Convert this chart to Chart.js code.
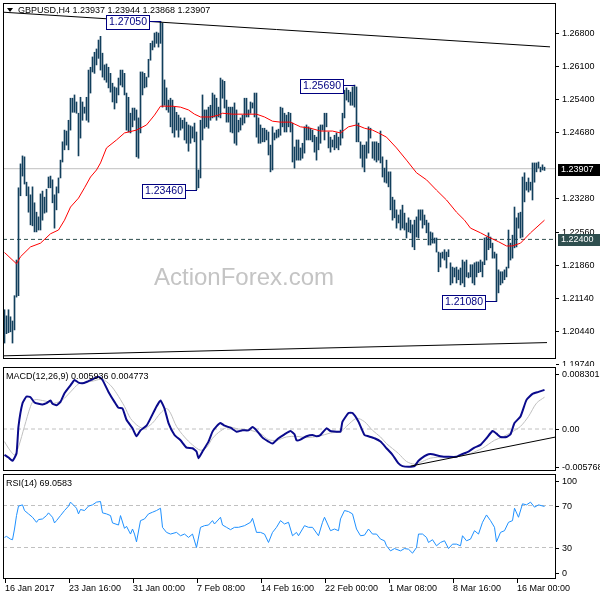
<!DOCTYPE html>
<html>
<head>
<meta charset="utf-8">
<script src="https://cdn.jsdelivr.net/npm/chart.js@4/dist/chart.umd.min.js"></script>
<style>
  body { margin: 0; background: #fff; }
  #wrap { position: relative; width: 600px; height: 600px; overflow: hidden; }
  canvas { position: absolute; left: 0; }
</style>
</head>
<body>
<div id="wrap">
  <canvas id="price" width="600" height="366" style="top:0"></canvas>
  <canvas id="macd" width="600" height="112" style="top:362px"></canvas>
  <canvas id="rsi" width="600" height="130" style="top:470px"></canvas>
</div>
<script>
// ---- data (H4 bars, index 0 = 16 Jan 2017 00:00) ----
const barHigh = [
  1.2090,1.2077,1.2090,1.2075,1.2066,1.2120,1.2196,1.2350,1.2401,1.2418,
  1.2416,1.2362,1.2352,1.2335,1.2352,1.2318,1.2298,1.2288,1.2337,1.2343,
  1.2330,1.2347,1.2373,1.2375,1.2367,1.2335,1.2352,1.2371,1.2409,1.2448,
  1.2473,1.2471,1.2494,1.2541,1.2541,1.2548,1.2533,1.2509,1.2543,1.2533,
  1.2522,1.2543,1.2601,1.2607,1.2629,1.2639,
  1.2646,1.2665,1.2673,1.2637,1.2612,1.2614,1.2607,1.2594,1.2573,1.2565,
  1.2563,1.2584,1.2601,1.2601,1.2594,1.2552,1.2543,1.2509,1.2520,1.2520,
  1.2516,1.2499,1.2597,1.2597,1.2594,1.2586,1.2624,1.2658,1.2663,1.2680,
  1.2682,1.2680,1.2705,1.2701,1.2580,1.2563,1.2537,1.2541,1.2537,1.2522,
  1.2511,1.2505,1.2499,1.2494,1.2499,1.2490,
  1.2484,1.2482,1.2480,1.2488,1.2469,1.2388,1.2494,1.2548,1.2516,1.2516,
  1.2522,1.2526,1.2552,1.2548,1.2541,1.2522,1.2584,1.2580,1.2577,1.2537,
  1.2522,1.2522,1.2522,1.2531,1.2516,1.2494,1.2499,1.2505,1.2541,1.2541,
  1.2516,1.2533,1.2531,1.2552,1.2552,1.2499,1.2484,1.2477,1.2477,1.2473,
  1.2469,1.2441,1.2480,1.2467,1.2473,1.2475,
  1.2522,1.2520,1.2509,1.2505,1.2511,1.2509,1.2488,1.2437,1.2452,1.2452,
  1.2435,1.2445,1.2480,1.2484,1.2480,1.2477,1.2473,1.2462,1.2458,1.2480,
  1.2484,1.2484,1.2509,1.2509,1.2469,1.2458,1.2452,1.2462,1.2467,1.2458,
  1.2473,1.2509,1.2558,1.2563,1.2558,1.2554,1.2565,1.2569,1.2565,1.2488,
  1.2448,1.2441,1.2441,1.2448,1.2480,1.2477,
  1.2448,1.2448,1.2448,1.2445,1.2471,1.2416,1.2392,1.2409,1.2384,1.2384,
  1.2330,1.2324,1.2303,1.2292,1.2303,1.2313,1.2296,1.2275,1.2286,1.2281,
  1.2271,1.2281,1.2288,1.2303,1.2303,1.2303,1.2292,1.2281,1.2275,1.2256,
  1.2254,1.2243,1.2243,1.2213,1.2211,1.2213,1.2218,1.2213,1.2218,1.2190,
  1.2181,1.2179,1.2181,1.2175,1.2179,1.2196,
  1.2192,1.2196,1.2169,1.2186,1.2186,1.2190,1.2192,1.2192,1.2196,1.2192,
  1.2243,1.2245,1.2254,1.2245,1.2232,1.2213,1.2209,1.2175,1.2171,1.2171,
  1.2175,1.2181,1.2260,1.2232,1.2249,1.2309,1.2286,1.2296,1.2298,1.2373,
  1.2382,1.2362,1.2371,1.2362,1.2403,1.2403,1.2403,1.2405,1.2394,1.2399,1.2394
];
const barLow = [
  1.2019,1.2039,1.2041,1.2043,1.2019,1.2047,1.2117,1.2120,1.2333,1.2375,
  1.2358,1.2333,1.2298,1.2271,1.2269,1.2256,1.2256,1.2260,1.2260,1.2281,
  1.2296,1.2298,1.2350,1.2350,1.2318,1.2264,1.2303,1.2339,1.2371,1.2405,
  1.2431,1.2441,1.2431,1.2473,1.2511,1.2511,1.2509,1.2418,1.2456,1.2494,
  1.2509,1.2494,1.2490,1.2552,1.2597,1.2594,
  1.2612,1.2626,1.2601,1.2586,1.2580,1.2575,1.2563,1.2554,1.2533,1.2518,
  1.2531,1.2548,1.2569,1.2565,1.2548,1.2473,1.2469,1.2467,1.2480,1.2494,
  1.2416,1.2413,1.2467,1.2548,1.2563,1.2565,1.2586,1.2622,1.2644,1.2650,
  1.2658,1.2650,1.2658,1.2522,1.2526,1.2516,1.2511,1.2480,1.2467,1.2458,
  1.2473,1.2458,1.2473,1.2477,1.2452,1.2445,
  1.2428,1.2445,1.2456,1.2448,1.2346,1.2350,1.2371,1.2452,1.2477,1.2480,
  1.2477,1.2494,1.2499,1.2501,1.2494,1.2501,1.2499,1.2541,1.2520,1.2490,
  1.2490,1.2469,1.2467,1.2445,1.2441,1.2469,1.2473,1.2484,1.2488,1.2501,
  1.2501,1.2509,1.2520,1.2501,1.2458,1.2445,1.2445,1.2448,1.2448,1.2452,
  1.2420,1.2384,1.2388,1.2452,1.2456,1.2458,
  1.2462,1.2480,1.2469,1.2469,1.2480,1.2469,1.2405,1.2392,1.2409,1.2409,
  1.2409,1.2413,1.2424,1.2452,1.2452,1.2452,1.2448,1.2426,1.2409,1.2431,
  1.2445,1.2473,1.2452,1.2480,1.2435,1.2426,1.2437,1.2431,1.2435,1.2431,
  1.2441,1.2456,1.2499,1.2537,1.2533,1.2526,1.2526,1.2522,1.2448,1.2448,
  1.2413,1.2394,1.2384,1.2413,1.2424,1.2456,
  1.2413,1.2409,1.2405,1.2409,1.2403,1.2373,1.2362,1.2360,1.2352,1.2303,
  1.2281,1.2286,1.2264,1.2275,1.2260,1.2264,1.2260,1.2243,1.2256,1.2254,
  1.2224,1.2218,1.2245,1.2243,1.2281,1.2264,1.2271,1.2254,1.2228,1.2228,
  1.2232,1.2232,1.2213,1.2171,1.2181,1.2200,1.2196,1.2179,1.2203,1.2143,
  1.2147,1.2160,1.2147,1.2154,1.2143,1.2147,
  1.2139,1.2160,1.2158,1.2160,1.2147,1.2143,1.2160,1.2169,1.2171,1.2160,
  1.2186,1.2196,1.2218,1.2222,1.2200,1.2200,1.2108,1.2126,1.2143,1.2147,
  1.2154,1.2160,1.2179,1.2196,1.2200,1.2222,1.2224,1.2264,1.2243,1.2245,
  1.2320,1.2345,1.2341,1.2345,1.2324,1.2362,1.2384,1.2392,1.2384,1.2388,1.2387
];

// red moving average, read at key bars
const maIdx = [0,6,8,13,18,23,27,30,33,37,40,43,46,48,51,56,60,66,71,75,78,84,88,92,95,98,103,107,109,114,
  119,126,130,134,138,143,148,153,158,164,168,172,176,180,184,187,191,196,201,206,211,216,221,226,230,233,238,242,247,251,
  254,258,263,270];
const maVal = [1.2212,1.2188,1.2203,1.2224,1.2232,1.2252,1.2260,1.2281,1.2309,1.2328,1.2350,1.2373,1.2388,1.2403,1.2435,
  1.2452,1.2467,1.2473,1.2484,1.2505,1.2524,1.2524,1.2522,1.2516,1.2507,1.2501,1.2501,1.2505,1.2509,1.2507,1.2507,1.2507,
  1.2501,1.2492,1.2490,1.2490,1.2480,1.2477,1.2471,1.2471,1.2467,1.2480,1.2484,1.2477,1.2473,1.2467,1.2458,1.2435,1.2409,
  1.2382,1.2367,1.2345,1.2324,1.2298,1.2281,1.2264,1.2254,1.2245,1.2235,1.2226,1.2226,1.2232,1.2254,1.2281];

const lastBar = [1.23937, 1.23944, 1.23868, 1.23907];
const pivotLevel = 1.2240;
const swingIdx = [78, 96, 175, 246];
const swingVal = [1.2705, 1.2346, 1.2569, 1.2108];
const upperTrend = [[-0.75, 1.27244], [272.75, 1.26505]];
const lowerTrend = [[-0.75, 1.19917], [271.25, 1.20200]];
// 1.23980 is hidden under the last-price tag in the reference
const priceTicks = [1.268, 1.261, 1.254, 1.2468, 1.2328, 1.2256, 1.2186, 1.2114, 1.2044, 1.1974];

// MACD(12,26,9)
const macdIdx = [0,2,4,6,7,9,11,13,15,17,19,21,23,24,26,28,30,33,35,37,39,41,44,47,49,52,55,57,59,61,
  64,66,68,71,73,76,78,80,82,85,88,91,94,96,97,99,102,104,106,108,110,113,116,119,122,124,126,129,132,134,
  137,140,143,145,146,148,151,154,156,158,161,163,166,168,169,172,174,177,180,182,185,188,191,194,197,199,202,205,207,210,
  212,214,218,222,226,228,232,235,238,241,244,246,248,251,253,255,258,261,264,267,270];
const macdVal = [-0.0039,-0.0043,-0.0048,-0.0037,0.0004,0.0039,0.0049,0.0048,0.0040,0.0038,
  0.0037,0.0039,0.0043,0.0038,0.0036,0.0041,0.0054,0.0066,0.0074,0.0070,
  0.0069,0.0071,0.0075,0.0079,0.0074,0.0056,0.0041,0.0032,0.0031,0.0014,
  0.0001,-0.0011,-0.0002,0.0005,0.0016,0.0034,0.0043,0.0031,0.0009,-0.0009,
  -0.0017,-0.0028,-0.0029,-0.0034,-0.0044,-0.0034,-0.0019,-0.0004,0.0004,0.0009,
  0.0005,0.0002,-0.0004,-0.0002,-0.0002,0.0003,-0.0002,-0.0013,-0.0019,-0.0022,
  -0.0014,-0.0008,-0.0003,-0.0008,-0.0017,-0.0016,-0.0011,-0.0009,-0.0011,-0.0009,
  0.0001,-0.0003,-0.0004,-0.0004,0.0011,0.0024,0.0024,0.0011,-0.0009,-0.0011,
  -0.0014,-0.0019,-0.0029,-0.0039,-0.0052,-0.0056,-0.0057,-0.0056,-0.0048,-0.0041,
  -0.0038,-0.0038,-0.0041,-0.0042,-0.0042,-0.0039,-0.0034,-0.0028,-0.0024,-0.0014,
  -0.0003,-0.0007,-0.0012,-0.0012,-0.0008,0.0009,0.0019,0.0044,0.0053,0.0056,0.0059];
const sigIdx = [0,2,5,7,10,13,15,19,22,25,29,33,37,40,45,49,53,56,60,63,67,70,74,78,81,83,86,90,94,98,
  101,104,108,112,117,123,128,132,136,141,146,151,157,163,168,171,176,180,184,188,191,197,201,205,209,213,220,228,233,239,
  245,249,254,258,262,266,270];
const sigVal = [-0.0019,-0.0029,-0.0039,-0.0027,0.0004,0.0034,0.0044,0.0043,0.0041,0.0039,
  0.0044,0.0056,0.0068,0.0070,0.0073,0.0075,0.0066,0.0054,0.0034,0.0016,
  0.0004,0.0001,0.0009,0.0024,0.0031,0.0024,0.0004,-0.0012,-0.0024,-0.0032,
  -0.0028,-0.0014,-0.0003,0.0003,0.0000,-0.0002,-0.0007,-0.0016,-0.0017,-0.0012,
  -0.0011,-0.0013,-0.0011,-0.0006,-0.0004,0.0004,0.0016,0.0011,-0.0002,-0.0012,
  -0.0022,-0.0037,-0.0049,-0.0053,-0.0049,-0.0044,-0.0042,-0.0041,-0.0037,-0.0029,
  -0.0017,-0.0012,-0.0004,0.0004,0.0019,0.0039,0.0048];
const macdLegend = [0.005936, 0.004773];
const macdTrend = [[203, -0.0056], [275.75, -0.0012]];
const macdTicks = [0.008301, 0, -0.005768];
const macdTickText = ['0.008301', '0.00', '-0.005768'];

// RSI(14)
const rsiIdx = [0,1,3,4,5,6,7,9,10,12,14,16,17,19,21,22,24,25,26,28,30,32,33,35,36,37,38,40,42,44,
  46,48,49,51,53,54,57,58,60,61,63,64,65,66,68,70,72,74,76,78,79,81,83,86,88,90,92,94,96,98,
  100,102,104,105,108,109,111,113,115,117,120,123,124,126,128,130,132,134,136,138,
  140,142,144,146,147,150,152,154,157,159,160,163,165,167,168,170,172,174,176,178,
  180,182,184,186,188,190,191,193,195,198,200,202,204,206,207,209,211,212,214,216,
  218,220,222,224,226,228,229,231,233,235,237,239,241,243,245,246,248,250,252,254,
  255,257,259,261,263,265,267,270];
const rsiVal = [39.6,40.6,38.0,37.4,47.6,60.4,69.4,70.6,65.2,62.0,58.8,54.0,56.6,57.2,60.4,63.0,58.8,53.4,55.6,60.4,
  65.2,69.4,73.2,69.4,67.4,62.0,66.2,65.2,69.4,70.6,73.2,73.8,63.0,62.0,60.4,53.4,51.4,60.4,48.2,50.2,
  42.8,47.6,42.8,35.4,55.6,57.2,62.0,63.6,65.2,67.4,49.2,44.4,42.8,44.4,41.2,42.8,39.6,42.8,30.0,49.2,
  50.8,51.4,55.6,52.4,58.8,51.4,49.2,47.0,49.2,49.2,50.8,54.0,57.8,44.4,44.4,42.8,34.8,44.4,49.2,55.6,
  52.4,54.0,41.2,44.4,41.2,50.8,49.2,49.2,41.2,54.0,58.8,46.0,47.6,46.0,57.2,65.2,64.2,62.0,47.6,41.2,
  41.8,47.6,42.8,42.8,38.0,36.4,31.6,26.8,29.0,26.8,29.0,28.4,24.6,30.0,42.8,42.8,39.6,34.8,37.4,31.6,
  34.8,36.4,29.0,33.2,33.2,31.6,41.2,36.4,38.0,46.0,42.8,54.0,61.0,55.6,49.2,35.4,44.4,46.0,54.0,55.6,
  67.4,58.8,71.6,70.6,73.2,68.4,70.6,69.06];
const rsiLegend = 69.0583;
const rsiTicks = [100, 70, 30, 0];

const xTickIdx = [0, 32, 64, 96, 128, 160, 192, 224, 256];
const xLabels = ['16 Jan 2017', '23 Jan 16:00', '31 Jan 00:00', '7 Feb 08:00', '14 Feb 16:00',
  '22 Feb 00:00', '1 Mar 08:00', '8 Mar 16:00', '16 Mar 00:00'];

// ---- helpers ----
const FONT = '9px "Liberation Sans", Arial, sans-serif';
const X_MIN = -0.75, X_MAX = 275.75;

const pts = (xs, ys) => xs.map((x, i) => ({x: x, y: ys[i]}));
const seg = (pair) => pair.map((p) => ({x: p[0], y: p[1]}));
const flat = (v) => [{x: X_MIN, y: v}, {x: X_MAX, y: v}];

const lineDs = (data, color, extra) => Object.assign({
  type: 'line', data: data, borderColor: color, borderWidth: 1,
  pointRadius: 0, fill: false, tension: 0,
}, extra || {});

const baseOptions = (pad, yMin, yMax) => ({
  responsive: false,
  animation: false,
  devicePixelRatio: 1,
  events: [],
  layout: {padding: pad},
  plugins: {legend: {display: false}, tooltip: {enabled: false}},
  scales: {
    x: {type: 'linear', min: X_MIN, max: X_MAX, display: false, offset: false},
    y: {type: 'linear', min: yMin, max: yMax, display: false},
  },
});

const drawFrame = (chart) => {
  const {ctx, chartArea: a} = chart;
  ctx.save();
  ctx.strokeStyle = '#000';
  ctx.lineWidth = 1;
  ctx.strokeRect(a.left + 0.5, a.top + 0.5, a.right - a.left - 1, a.bottom - a.top - 1);
  ctx.restore();
};

const drawRightLabels = (chart, vals, texts, nudge) => {
  const {ctx, chartArea: a, scales: {y}} = chart;
  ctx.save();
  ctx.font = FONT;
  ctx.fillStyle = '#000';
  ctx.textAlign = 'left';
  ctx.textBaseline = 'middle';
  vals.forEach((v, k) => {
    const py = Math.round(y.getPixelForValue(v)) + (nudge ? nudge[k] : 0);
    ctx.fillRect(a.right, py, 3, 1);
    ctx.fillText(texts[k], a.right + 6, py + 1);
  });
  ctx.restore();
};

const priceTag = (chart, v, bg) => {
  const {ctx, chartArea: a, scales: {y}} = chart;
  const py = Math.round(y.getPixelForValue(v));
  ctx.save();
  ctx.fillStyle = bg;
  ctx.fillRect(a.right + 2, py - 5, 42, 12);
  ctx.font = FONT;
  ctx.fillStyle = '#fff';
  ctx.textBaseline = 'middle';
  ctx.fillText(v.toFixed(5), a.right + 5, py + 1);
  ctx.restore();
};

const callout = (chart, idx, v) => {
  const {ctx, scales: {x, y}} = chart;
  const px = Math.round(x.getPixelForValue(idx));
  const py = Math.round(y.getPixelForValue(v)) + 0.5;
  const w = 44, h = 14, right = px - 11;
  ctx.save();
  ctx.strokeStyle = '#000080';
  ctx.lineWidth = 1;
  ctx.beginPath();
  ctx.moveTo(right, py);
  ctx.lineTo(px, py);
  ctx.stroke();
  ctx.fillStyle = '#fff';
  ctx.fillRect(right - w, py - h / 2, w, h);
  ctx.strokeRect(right - w + 0.5, Math.round(py - h / 2) + 0.5, w - 1, h);
  ctx.font = '10.5px "Liberation Sans", Arial, sans-serif';
  ctx.fillStyle = '#000080';
  ctx.textAlign = 'center';
  ctx.textBaseline = 'middle';
  ctx.fillText(v.toFixed(5), right - w / 2, py + 1);
  ctx.restore();
};

const panelTitle = (chart, text, x, y) => {
  const {ctx} = chart;
  ctx.save();
  ctx.font = FONT;
  ctx.fillStyle = '#000';
  ctx.textBaseline = 'middle';
  ctx.fillText(text, x, y);
  ctx.restore();
};

// ---- price panel ----
new Chart(document.getElementById('price'), {
  type: 'bar',
  data: {
    datasets: [
      lineDs(flat(lastBar[3]), '#c0c0c0', {order: 10}),
      lineDs(flat(pivotLevel), '#2f4f4f', {order: 9, borderDash: [4, 3]}),
      lineDs(seg(upperTrend), '#000', {order: 2}),
      lineDs(seg(lowerTrend), '#000', {order: 2}),
      {
        type: 'bar',
        data: barHigh.map((h, i) => ({x: i, y: [barLow[i], h]})),
        backgroundColor: '#123f5c',
        borderWidth: 0,
        barThickness: 1,
        grouped: false,
        order: 5,
      },
      lineDs(pts(maIdx, maVal), '#ff0000', {order: 1}),
    ],
  },
  options: baseOptions({left: 3, right: 44, top: 3, bottom: 7}, 1.1985, 1.2744),
  plugins: [{
    id: 'priceDecor',
    beforeDatasetsDraw(chart) {
      const {ctx} = chart;
      ctx.save();
      ctx.font = '24px "Liberation Sans", Arial, sans-serif';
      ctx.fillStyle = '#c4c4c4';
      ctx.textBaseline = 'middle';
      ctx.fillText('ActionForex.com', 154, 278);
      ctx.restore();
    },
    afterDraw(chart) {
      drawFrame(chart);
      drawRightLabels(chart, priceTicks, priceTicks.map((v) => v.toFixed(5)));
      priceTag(chart, lastBar[3], '#000');
      priceTag(chart, pivotLevel, '#2f4f4f');
      swingIdx.forEach((idx, k) => callout(chart, idx, swingVal[k]));
      const {ctx} = chart;
      ctx.save();
      ctx.fillStyle = '#000';
      ctx.beginPath();
      ctx.moveTo(7, 8); ctx.lineTo(13, 8); ctx.lineTo(10, 12); ctx.closePath();
      ctx.fill();
      ctx.restore();
      panelTitle(chart, 'GBPUSD,H4 ' + lastBar.map((v) => v.toFixed(5)).join(' '), 18, 10.5);
    },
  }],
});

// ---- MACD panel ----
new Chart(document.getElementById('macd'), {
  type: 'line',
  data: {
    datasets: [
      lineDs(flat(0), '#c0c0c0', {order: 10, borderDash: [4, 3]}),
      lineDs(pts(sigIdx, sigVal), '#c0c0c0', {order: 3, tension: 0.3}),
      lineDs(pts(macdIdx, macdVal), '#0a0a8c', {order: 2, borderWidth: 2, tension: 0.15}),
      lineDs(seg(macdTrend), '#000', {order: 1}),
    ],
  },
  options: baseOptions({left: 3, right: 44, top: 5, bottom: 3}, -0.00634, 0.00936),
  plugins: [{
    id: 'macdDecor',
    afterDraw(chart) {
      drawFrame(chart);
      drawRightLabels(chart, macdTicks, macdTickText);
      panelTitle(chart, 'MACD(12,26,9) ' + macdLegend.map((v) => v.toFixed(6)).join(' '), 6, 14.5);
    },
  }],
});

// ---- RSI panel ----
new Chart(document.getElementById('rsi'), {
  type: 'line',
  data: {
    datasets: [
      lineDs(flat(70), '#c0c0c0', {order: 10, borderDash: [4, 3]}),
      lineDs(flat(30), '#c0c0c0', {order: 10, borderDash: [4, 3]}),
      lineDs(pts(rsiIdx, rsiVal), '#1e90ff', {order: 1}),
    ],
  },
  options: baseOptions({left: 3, right: 44, top: 4, bottom: 21}, 0, 100),
  plugins: [{
    id: 'rsiDecor',
    afterDraw(chart) {
      drawFrame(chart);
      drawRightLabels(chart, rsiTicks, rsiTicks.map(String), [7, 0, 0, -6]);
      panelTitle(chart, 'RSI(14) ' + rsiLegend.toFixed(4), 6, 14);
      const {ctx, chartArea: a, scales: {x}} = chart;
      ctx.save();
      ctx.font = FONT;
      ctx.fillStyle = '#000';
      ctx.textBaseline = 'middle';
      xTickIdx.forEach((idx, k) => {
        const px = Math.round(x.getPixelForValue(idx));
        ctx.fillRect(px, a.bottom, 1, 4);
        ctx.fillText(xLabels[k], px, a.bottom + 9.5);
      });
      ctx.restore();
    },
  }],
});
</script>
</body>
</html>
